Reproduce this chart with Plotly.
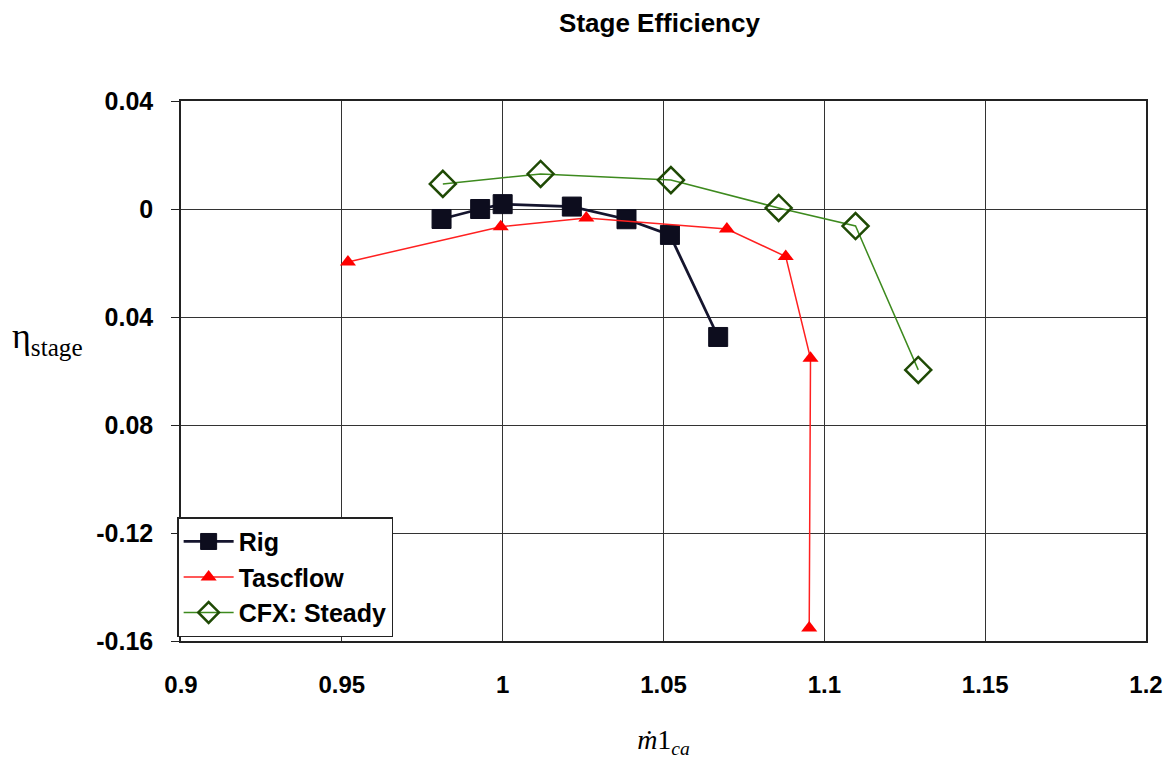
import plotly.graph_objects as go

rig_x = [0.981, 0.993, 1.000, 1.0215, 1.0385, 1.052, 1.067]
rig_y = [-0.0037, 0.0000, 0.0018, 0.0009, -0.0038, -0.0096, -0.0474]

tasc_x = [0.9519, 0.9994, 1.026, 1.0697, 1.088, 1.0957, 1.0953]
tasc_y = [-0.0196, -0.0066, -0.0033, -0.0074, -0.0176, -0.0553, -0.1552]

cfx_x = [0.9814, 1.0118, 1.0523, 1.0858, 1.1097, 1.1292]
cfx_y = [0.0093, 0.0130, 0.0107, 0.0004, -0.0063, -0.0596]

x_ticks = [0.9, 0.95, 1.0, 1.05, 1.1, 1.15, 1.2]
x_tick_text = ["0.9", "0.95", "1", "1.05", "1.1", "1.15", "1.2"]
y_ticks = [0.04, 0.0, -0.04, -0.08, -0.12, -0.16]
y_tick_text = ["0.04", "0", "0.04", "0.08", "-0.12", "-0.16"]

fig = go.Figure()
fig.add_trace(go.Scatter(
    x=rig_x, y=rig_y, mode="lines+markers", name="Rig",
    line=dict(color="#15152e", width=2.8),
    marker=dict(symbol="square", size=19, color="#0d0d1e", line=dict(color="#0d0d1e", width=1)),
))
fig.add_trace(go.Scatter(
    x=tasc_x, y=tasc_y, mode="lines+markers", name="Tascflow",
    line=dict(color="#ff2020", width=1.5),
    marker=dict(symbol="triangle-up", size=14, color="#ff0000"),
))
fig.add_trace(go.Scatter(
    x=cfx_x, y=cfx_y, mode="lines+markers", name="CFX: Steady",
    line=dict(color="#3d8a1e", width=1.5),
    marker=dict(symbol="diamond-open", size=20, color="#1f4a05", line=dict(width=2.5)),
))

sans = "Liberation Sans, Arial, sans-serif"
serif = "Liberation Serif, Times New Roman, serif"

fig.update_layout(
    width=1176, height=763,
    paper_bgcolor="white", plot_bgcolor="white",
    margin=dict(l=173, r=38, t=93, b=130, autoexpand=False),
    title=dict(text="Stage Efficiency", x=0.554, xanchor="center", y=0.993, yanchor="top",
               font=dict(family=sans, size=26, color="black", weight="bold")),
    xaxis=dict(
        range=[0.9, 1.2], tickvals=x_ticks, ticktext=x_tick_text,
        tickfont=dict(family=sans, size=24, color="black", weight="bold"),
        showgrid=True, gridcolor="#333333", gridwidth=1,
        showline=True, linecolor="#222222", linewidth=1.5, mirror=True,
        zeroline=False, ticks="", ticklabelstandoff=21,
        title=dict(text="<i>ṁ</i>1<sub><i>ca</i></sub>", standoff=33,
                   font=dict(family=serif, size=28, color="black")),
    ),
    yaxis=dict(
        range=[-0.16, 0.04], tickvals=y_ticks, ticktext=y_tick_text,
        tickfont=dict(family=sans, size=25, color="black", weight="bold"),
        showgrid=True, gridcolor="#333333", gridwidth=1,
        showline=True, linecolor="#222222", linewidth=1.5, mirror=True,
        zeroline=False, ticks="outside", ticklen=8, tickcolor="#222222",
        ticklabelstandoff=13,
    ),
    legend=dict(
        x=-0.004, y=0.007, xanchor="left", yanchor="bottom",
        bgcolor="white", bordercolor="#222222", borderwidth=1.5,
        font=dict(family=sans, size=25, color="black", weight="bold"),
        itemwidth=50,
    ),
    showlegend=True,
)

fig.add_annotation(
    text="η<sub>stage</sub>", xref="paper", yref="paper", x=0, y=0.561,
    xanchor="right", yanchor="middle", xshift=-96, showarrow=False,
    font=dict(family=serif, size=36, color="black"),
)

fig.write_html("out.html")
